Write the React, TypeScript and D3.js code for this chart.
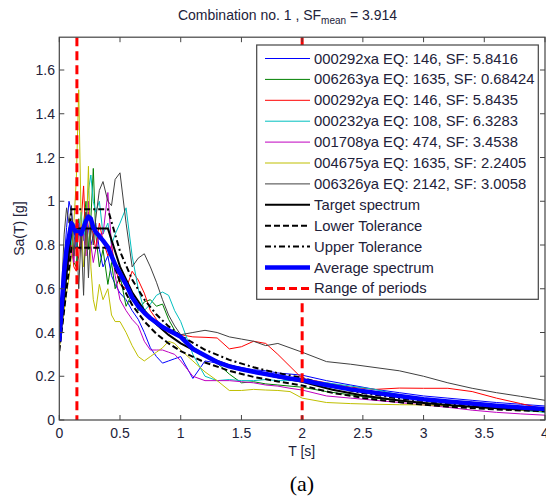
import React from 'react';
import * as d3 from 'd3';

// ---------- data ----------
const periods = [0, 0.02, 0.04, 0.06, 0.08, 0.1, 0.12, 0.14, 0.16, 0.18, 0.2, 0.22, 0.24, 0.26, 0.28, 0.3, 0.33, 0.36, 0.4, 0.43, 0.46, 0.5, 0.55, 0.6, 0.65, 0.7, 0.75, 0.8, 0.85, 0.9, 0.95, 1.0, 1.1, 1.2, 1.3, 1.4, 1.5, 1.6, 1.7, 1.8, 1.9, 2.0, 2.2, 2.4, 2.6, 2.8, 3.0, 3.2, 3.4, 3.6, 3.8, 4.0];

const sa000292xa = [0.36, 0.55, 0.72, 0.88, 1.0, 0.95, 0.85, 0.78, 0.9, 0.82, 0.86, 0.95, 0.88, 0.8, 0.84, 0.9, 0.78, 0.7, 0.75, 0.66, 0.62, 0.58, 0.55, 0.5, 0.46, 0.4, 0.33, 0.29, 0.26, 0.27, 0.28, 0.29, 0.19, 0.27, 0.26, 0.25, 0.24, 0.23, 0.225, 0.215, 0.21, 0.205, 0.18, 0.16, 0.14, 0.125, 0.11, 0.1, 0.09, 0.08, 0.072, 0.064];
const sa006263ya = [0.38, 0.52, 0.66, 0.78, 0.75, 0.85, 0.72, 0.7, 0.92, 0.8, 0.9, 1.0, 0.78, 0.92, 1.15, 0.85, 0.7, 0.78, 0.62, 0.72, 0.6, 0.66, 0.52, 0.58, 0.5, 0.54, 0.55, 0.52, 0.53, 0.46, 0.41, 0.38, 0.335, 0.3, 0.26, 0.21, 0.17, 0.175, 0.165, 0.16, 0.155, 0.15, 0.13, 0.115, 0.1, 0.088, 0.078, 0.068, 0.06, 0.052, 0.045, 0.038];
const sa000292ya = [0.35, 0.48, 0.6, 0.7, 0.78, 0.8, 0.7, 0.68, 0.75, 0.9, 1.07, 0.8, 0.95, 0.88, 0.85, 0.78, 0.9, 0.82, 0.75, 0.8, 0.7, 0.62, 0.6, 0.68, 0.64, 0.58, 0.5, 0.46, 0.42, 0.4, 0.39, 0.39, 0.38, 0.378, 0.375, 0.325, 0.335, 0.36, 0.35, 0.3, 0.245, 0.19, 0.17, 0.15, 0.14, 0.146, 0.145, 0.145, 0.13, 0.1, 0.075, 0.05];
const sa000232ya = [0.37, 0.52, 0.68, 0.8, 0.85, 0.8, 0.9, 0.78, 0.85, 0.95, 0.82, 0.9, 1.05, 1.12, 1.0, 0.95, 1.0, 0.85, 0.9, 0.8, 0.85, 0.9, 0.97, 0.75, 0.6, 0.5, 0.53, 0.57, 0.585, 0.57, 0.5, 0.45, 0.3, 0.2, 0.18, 0.185, 0.18, 0.18, 0.185, 0.18, 0.18, 0.18, 0.17, 0.155, 0.14, 0.115, 0.095, 0.08, 0.068, 0.055, 0.045, 0.035];
const sa001708ya = [0.34, 0.48, 0.6, 0.68, 0.72, 0.8, 0.72, 0.88, 0.9, 0.78, 0.85, 0.75, 1.0, 0.8, 0.72, 0.78, 0.85, 0.85, 1.04, 0.8, 0.66, 0.55, 0.5, 0.46, 0.43, 0.36, 0.32, 0.32, 0.32, 0.31, 0.3, 0.27, 0.2, 0.18, 0.18, 0.18, 0.175, 0.17, 0.16, 0.155, 0.145, 0.137, 0.11, 0.1, 0.09, 0.08, 0.069, 0.058, 0.045, 0.035, 0.028, 0.022];
const sa004675ya = [0.33, 0.4, 0.5, 0.58, 0.65, 0.75, 0.9, 1.1, 1.51, 0.9, 0.7, 0.8, 1.16, 0.7, 0.55, 0.5, 0.62, 0.55, 0.6, 0.48, 0.45, 0.45, 0.4, 0.34, 0.29, 0.27, 0.29, 0.31, 0.33, 0.36, 0.35, 0.32, 0.27, 0.22, 0.18, 0.135, 0.135, 0.14, 0.137, 0.135, 0.13, 0.1, 0.08, 0.075, 0.072, 0.07, 0.069, 0.065, 0.06, 0.052, 0.045, 0.04];
const sa006326ya = [0.36, 0.6, 0.85, 0.97, 0.9, 0.98, 0.75, 0.9, 0.6, 0.85, 0.57, 0.95, 0.65, 0.9, 0.8, 0.92, 1.05, 1.09, 1.0, 0.98, 1.1, 1.13, 0.9, 0.7, 0.74, 0.76, 0.7, 0.63, 0.55, 0.48, 0.43, 0.39, 0.4, 0.41, 0.4, 0.38, 0.37, 0.36, 0.34, 0.35, 0.33, 0.31, 0.267, 0.255, 0.24, 0.225, 0.2, 0.17, 0.145, 0.125, 0.108, 0.09];

const averageSa = [0.36, 0.52, 0.68, 0.78, 0.84, 0.9, 0.88, 0.85, 0.86, 0.85, 0.88, 0.91, 0.93, 0.92, 0.88, 0.86, 0.84, 0.82, 0.79, 0.75, 0.71, 0.67, 0.62, 0.56, 0.52, 0.49, 0.465, 0.445, 0.425, 0.41, 0.395, 0.38, 0.325, 0.295, 0.265, 0.245, 0.232, 0.22, 0.21, 0.2, 0.19, 0.182, 0.16, 0.14, 0.125, 0.11, 0.095, 0.085, 0.075, 0.065, 0.057, 0.05];

const targetPeriods = [0, 0.1, 0.4, 0.5, 0.6, 0.7, 0.8, 0.9, 1.0, 1.2, 1.4, 1.6, 1.8, 2.0, 2.25, 2.5, 2.75, 3.0, 3.25, 3.5, 3.75, 4.0];
const targetSa = [0.35, 0.876, 0.876, 0.701, 0.584, 0.501, 0.438, 0.389, 0.35, 0.292, 0.25, 0.219, 0.195, 0.175, 0.138, 0.112, 0.093, 0.078, 0.066, 0.057, 0.05, 0.044];
const lowerSa = [0.315, 0.788, 0.788, 0.631, 0.526, 0.451, 0.394, 0.35, 0.315, 0.263, 0.225, 0.197, 0.176, 0.158, 0.124, 0.101, 0.084, 0.07, 0.059, 0.051, 0.045, 0.04];
const upperSa = [0.385, 0.964, 0.964, 0.771, 0.642, 0.551, 0.482, 0.428, 0.385, 0.321, 0.275, 0.241, 0.214, 0.193, 0.152, 0.123, 0.102, 0.086, 0.073, 0.063, 0.055, 0.048];

const periodRange = [0.145, 2.0];

const recordLabels = [
  '000292xa EQ: 146, SF: 5.8416',
  '006263ya EQ: 1635, SF: 0.68424',
  '000292ya EQ: 146, SF: 5.8435',
  '000232ya EQ: 108, SF: 6.3283',
  '001708ya EQ: 474, SF: 3.4538',
  '004675ya EQ: 1635, SF: 2.2405',
  '006326ya EQ: 2142, SF: 3.0058',
];
const recordValues = [sa000292xa, sa006263ya, sa000292ya, sa000232ya, sa001708ya, sa004675ya, sa006326ya];
const recordColors = ['#0000ff', '#008000', '#ff0000', '#00bfbf', '#bf00bf', '#bfbf00', '#404040'];

const xTickValues = [0, 0.5, 1, 1.5, 2, 2.5, 3, 3.5, 4];
const yTickValues = [0, 0.2, 0.4, 0.6, 0.8, 1, 1.2, 1.4, 1.6];

// ---------- component ----------
export default function App() {
  const W = 546, H = 497;
  const left = 59.3, right = 545, top = 37.2, bottom = 420;
  const x = d3.scaleLinear().domain([0, 4]).range([left, right]);
  const y = d3.scaleLinear().domain([0, 1.75]).range([bottom, top]);

  const line = (ts: number[], vs: number[]) =>
    d3.line<number>().x((_, i) => x(ts[i])).y((v) => y(v))(vs) || '';

  const font = "'Liberation Sans', Arial, sans-serif";
  const textColor = '#22223a';
  const axisColor = '#444';

  const legendItems: { label: string; color: string; width: number; dash?: string }[] = [
    ...recordLabels.map((l, i) => ({ label: l, color: recordColors[i], width: 1 })),
    { label: 'Target spectrum', color: '#000', width: 2 },
    { label: 'Lower Tolerance', color: '#000', width: 2, dash: '6,3' },
    { label: 'Upper Tolerance', color: '#000', width: 2, dash: '6,3,2,3' },
    { label: 'Average spectrum', color: '#0000ff', width: 4.5 },
    { label: 'Range of periods', color: '#ff0000', width: 3, dash: '8,4' },
  ];

  const lgX = 256.7, lgY = 45, lgW = 281.6, lgH = 254.3;
  const rowY0 = 58.5, rowStep = 20.9;

  return (
    <div style={{ position: 'absolute', left: 0, top: 0 }}>
      <svg width={W} height={H} style={{ display: 'block', background: '#fff' }}>
        <defs>
          <clipPath id="plotClip">
            <rect x={left} y={top} width={right - left} height={bottom - top} />
          </clipPath>
        </defs>

        {/* title */}
        <text x={287.5} y={20} textAnchor="middle" fontFamily={font} fontSize={14} fill={textColor}>
          Combination no. 1 , SF
          <tspan fontSize={10} dy={4}>mean</tspan>
          <tspan dy={-4}> = 3.914</tspan>
        </text>

        <g clipPath="url(#plotClip)">
          {recordValues.map((vals, i) => (
            <path key={i} d={line(periods, vals)} fill="none" stroke={recordColors[i]} strokeWidth={1} strokeLinejoin="round" />
          ))}
          <path d={line(targetPeriods, targetSa)} fill="none" stroke="#000" strokeWidth={2} />
          <path d={line(targetPeriods, lowerSa)} fill="none" stroke="#000" strokeWidth={2} strokeDasharray="6,3" />
          <path d={line(targetPeriods, upperSa)} fill="none" stroke="#000" strokeWidth={2} strokeDasharray="6,3,2,3" />
          <path d={line(periods, averageSa)} fill="none" stroke="#0000ff" strokeWidth={4.5} strokeLinejoin="round" />
          {periodRange.map((t, i) => (
            <line key={i} x1={x(t)} x2={x(t)} y1={top} y2={bottom} stroke="#ff0000" strokeWidth={3} strokeDasharray="9,5" />
          ))}
        </g>

        {/* axes box */}
        <rect x={left} y={top} width={right - left} height={bottom - top} fill="none" stroke={axisColor} strokeWidth={1.2} />
        {xTickValues.map((t) => (
          <g key={'x' + t}>
            <line x1={x(t)} x2={x(t)} y1={bottom} y2={bottom - 5} stroke={axisColor} />
            <line x1={x(t)} x2={x(t)} y1={top} y2={top + 5} stroke={axisColor} />
            <text x={x(t)} y={438} textAnchor="middle" fontFamily={font} fontSize={14} fill={textColor}>
              {String(t)}
            </text>
          </g>
        ))}
        {yTickValues.map((t) => (
          <g key={'y' + t}>
            <line x1={left} x2={left + 5} y1={y(t)} y2={y(t)} stroke={axisColor} />
            <line x1={right} x2={right - 5} y1={y(t)} y2={y(t)} stroke={axisColor} />
            <text x={55} y={y(t) + 5} textAnchor="end" fontFamily={font} fontSize={14} fill={textColor}>
              {String(+t.toFixed(1))}
            </text>
          </g>
        ))}

        {/* axis labels */}
        <text x={301.7} y={456} textAnchor="middle" fontFamily={font} fontSize={14} fill={textColor}>T [s]</text>
        <text transform={`translate(23.5,${(top + bottom) / 2}) rotate(-90)`} textAnchor="middle" fontFamily={font} fontSize={14} fill={textColor}>
          Sa(T) [g]
        </text>
        <text x={302} y={491} textAnchor="middle" fontFamily="'Liberation Serif', 'Times New Roman', serif" fontSize={22} fill="#000">(a)</text>

        {/* legend */}
        <rect x={lgX} y={lgY} width={lgW} height={lgH} fill="#fff" stroke={axisColor} strokeWidth={1.2} />
        {legendItems.map((it, i) => {
          const cy = rowY0 + i * rowStep;
          return (
            <g key={'lg' + i}>
              <line x1={265} x2={310} y1={cy} y2={cy} stroke={it.color} strokeWidth={it.width} strokeDasharray={it.dash} />
              <text x={314} y={cy + 5} fontFamily={font} fontSize={14.8} fill={textColor}>{it.label}</text>
            </g>
          );
        })}
      </svg>
    </div>
  );
}
